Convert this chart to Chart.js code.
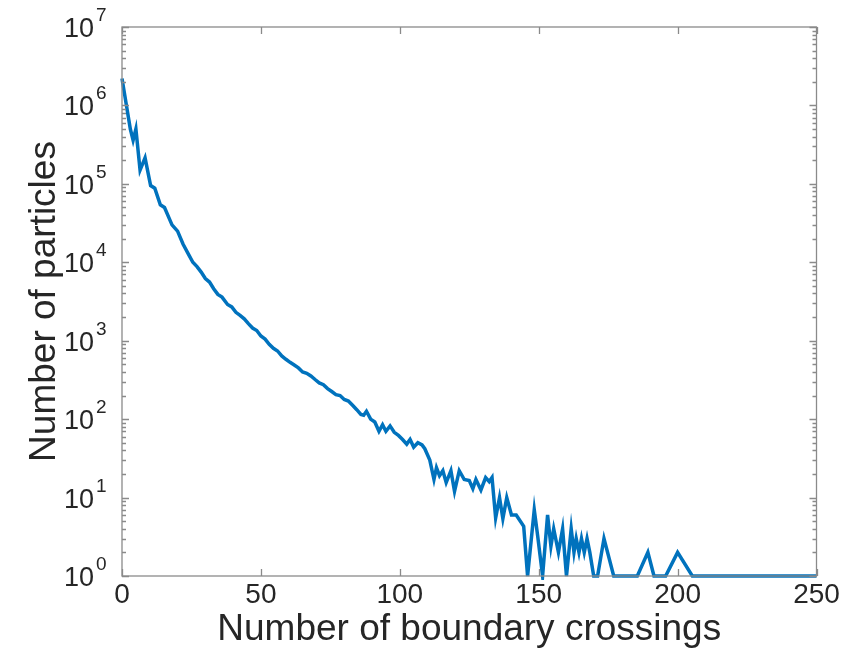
<!DOCTYPE html>
<html>
<head>
<meta charset="utf-8">
<script src="https://cdn.jsdelivr.net/npm/chart.js@4.4.1/dist/chart.umd.min.js"></script>
<style>
  html, body { margin: 0; padding: 0; background: #ffffff; }
  canvas { display: block; }
</style>
</head>
<body>
<canvas id="chart" width="858" height="649"></canvas>
<script>
// Histogram of boundary crossings per particle (log-scaled counts)
const crossings = [
  0, 3, 4, 5, 6.5, 8.3, 10.3, 11.8, 13.8, 15.3, 18, 20, 22, 24, 25.5, 27, 28.5, 30,
  31.5, 33, 34.5, 36, 38, 39.5, 41, 42.5, 44, 45.5, 47, 48.5, 50, 51.5, 53, 54.5,
  56, 57.5, 59, 60.5, 62, 63.5, 65, 66.5, 68, 69.5, 71, 72.5, 74, 75.5, 77, 78.5,
  80, 81.5, 83, 84.5, 86, 87, 88, 89.5, 91, 92.5, 93.8, 95, 96.5, 98, 99.5, 101,
  102.5, 103.7, 105, 106.5, 108, 109, 110.8, 112.3, 113.2, 114.3, 115.5, 116.7,
  118.4, 119.7, 121.4, 123.2, 125, 126.3, 127.4, 129.2, 130.9, 132.2, 133.2, 134.5,
  135.9, 137.1, 138.5, 140.2, 141.9, 143.4, 144.6, 146, 148.4, 149.6, 151.4, 153.2,
  154.4, 155.4, 157.1, 158.6, 160, 161.7, 162.7, 163.5, 164.5, 165.4, 166.4, 167.4,
  168.4, 169.8, 171.2, 173.5, 177, 185.5, 189.3, 191.5, 195.7, 200, 205.3, 250
];
const particles = [
  2200000, 500000, 360000, 500000, 150000, 215000, 95000, 88000, 54000, 50000, 30000,
  25000, 17000, 12500, 10000, 8800, 7500, 6200, 5600, 4600, 3900, 3600, 2900, 2700,
  2300, 2100, 1900, 1650, 1450, 1350, 1150, 1050, 900, 800, 740, 640, 580, 530, 490,
  450, 400, 385, 355, 320, 290, 275, 245, 225, 205, 200, 178, 170, 150, 132, 115,
  112, 126, 100, 92, 70, 85, 70, 82, 68, 62, 55, 48, 55, 44, 50, 47, 42, 30, 17, 24,
  19, 22, 15.5, 22, 12, 22, 17, 16.5, 13, 17, 12.5, 18, 16, 18, 5.5, 10, 5.4, 10, 6,
  6, 5, 4.3, 1, 7, 3.3, 1, 6, 2.4, 4, 2, 4, 1, 4, 2, 3, 2, 3, 2, 3, 2, 1, 1, 3, 1, 1,
  2, 1, 1, 2, 1, 1
];

// Axis ticks
const xTicks = [0, 50, 100, 150, 200, 250];
const yExponents = [0, 1, 2, 3, 4, 5, 6, 7];

const xTitle = 'Number of boundary crossings';
const yTitle = 'Number of particles';

const FONT = '"Liberation Sans", Arial, Helvetica, sans-serif';
const TEXT = '#262626';
const AXIS = '#8a8a8a';

// Box, inward ticks (all four sides), tick labels and axis titles
const axesPlugin = {
  id: 'axesBox',
  afterDraw(chart) {
    const ctx = chart.ctx;
    const a = chart.chartArea;
    const xs = chart.scales.x;
    const ys = chart.scales.y;
    ctx.save();

    ctx.strokeStyle = AXIS;
    ctx.lineWidth = 1.3;
    ctx.strokeRect(a.left, a.top, a.right - a.left, a.bottom - a.top);

    ctx.beginPath();
    const majorLen = 7, minorLen = 4;
    xTicks.forEach(v => {
      const px = Math.round(xs.getPixelForValue(v)) + 0.5;
      ctx.moveTo(px, a.bottom); ctx.lineTo(px, a.bottom - majorLen);
      ctx.moveTo(px, a.top); ctx.lineTo(px, a.top + majorLen);
    });
    yExponents.forEach(e => {
      const py = Math.round(ys.getPixelForValue(Math.pow(10, e))) + 0.5;
      ctx.moveTo(a.left, py); ctx.lineTo(a.left + majorLen, py);
      ctx.moveTo(a.right, py); ctx.lineTo(a.right - majorLen, py);
      if (e < 7) {
        for (let m = 2; m <= 9; m++) {
          const pm = Math.round(ys.getPixelForValue(m * Math.pow(10, e))) + 0.5;
          ctx.moveTo(a.left, pm); ctx.lineTo(a.left + minorLen, pm);
          ctx.moveTo(a.right, pm); ctx.lineTo(a.right - minorLen, pm);
        }
      }
    });
    ctx.stroke();

    ctx.fillStyle = TEXT;
    // x tick labels
    ctx.font = '28px ' + FONT;
    ctx.textAlign = 'center';
    ctx.textBaseline = 'alphabetic';
    xTicks.forEach(v => {
      ctx.fillText(String(v), xs.getPixelForValue(v), a.bottom + 27);
    });

    // y tick labels: 10 with raised exponent
    yExponents.forEach(e => {
      const py = ys.getPixelForValue(Math.pow(10, e));
      ctx.font = '27px ' + FONT;
      ctx.textAlign = 'right';
      ctx.fillText('10', a.left - 28, py + 10);
      ctx.font = '19px ' + FONT;
      ctx.textAlign = 'left';
      ctx.fillText(String(e), a.left - 26, py - 6);
    });

    // axis titles
    ctx.font = '37px ' + FONT;
    ctx.textAlign = 'center';
    ctx.textBaseline = 'alphabetic';
    ctx.fillText(xTitle, (a.left + a.right) / 2, a.bottom + 64);

    ctx.save();
    ctx.translate(55, (a.top + a.bottom) / 2);
    ctx.rotate(-Math.PI / 2);
    ctx.fillText(yTitle, 0, 0);
    ctx.restore();

    ctx.restore();
  }
};

new Chart(document.getElementById('chart'), {
  type: 'line',
  data: {
    datasets: [{
      data: crossings.map((x, i) => ({ x: x, y: particles[i] })),
      borderColor: '#0072BD',
      borderWidth: 3.5,
      pointRadius: 0,
      tension: 0,
      fill: false,
      clip: 4
    }]
  },
  options: {
    responsive: false,
    devicePixelRatio: 1,
    animation: false,
    layout: { padding: { left: 122, right: 41.5, top: 27, bottom: 73 } },
    plugins: { legend: { display: false }, tooltip: { enabled: false } },
    scales: {
      x: { type: 'linear', min: 0, max: 250, display: false },
      y: { type: 'logarithmic', min: 1, max: 1e7, display: false }
    }
  },
  plugins: [axesPlugin]
});
</script>
</body>
</html>
